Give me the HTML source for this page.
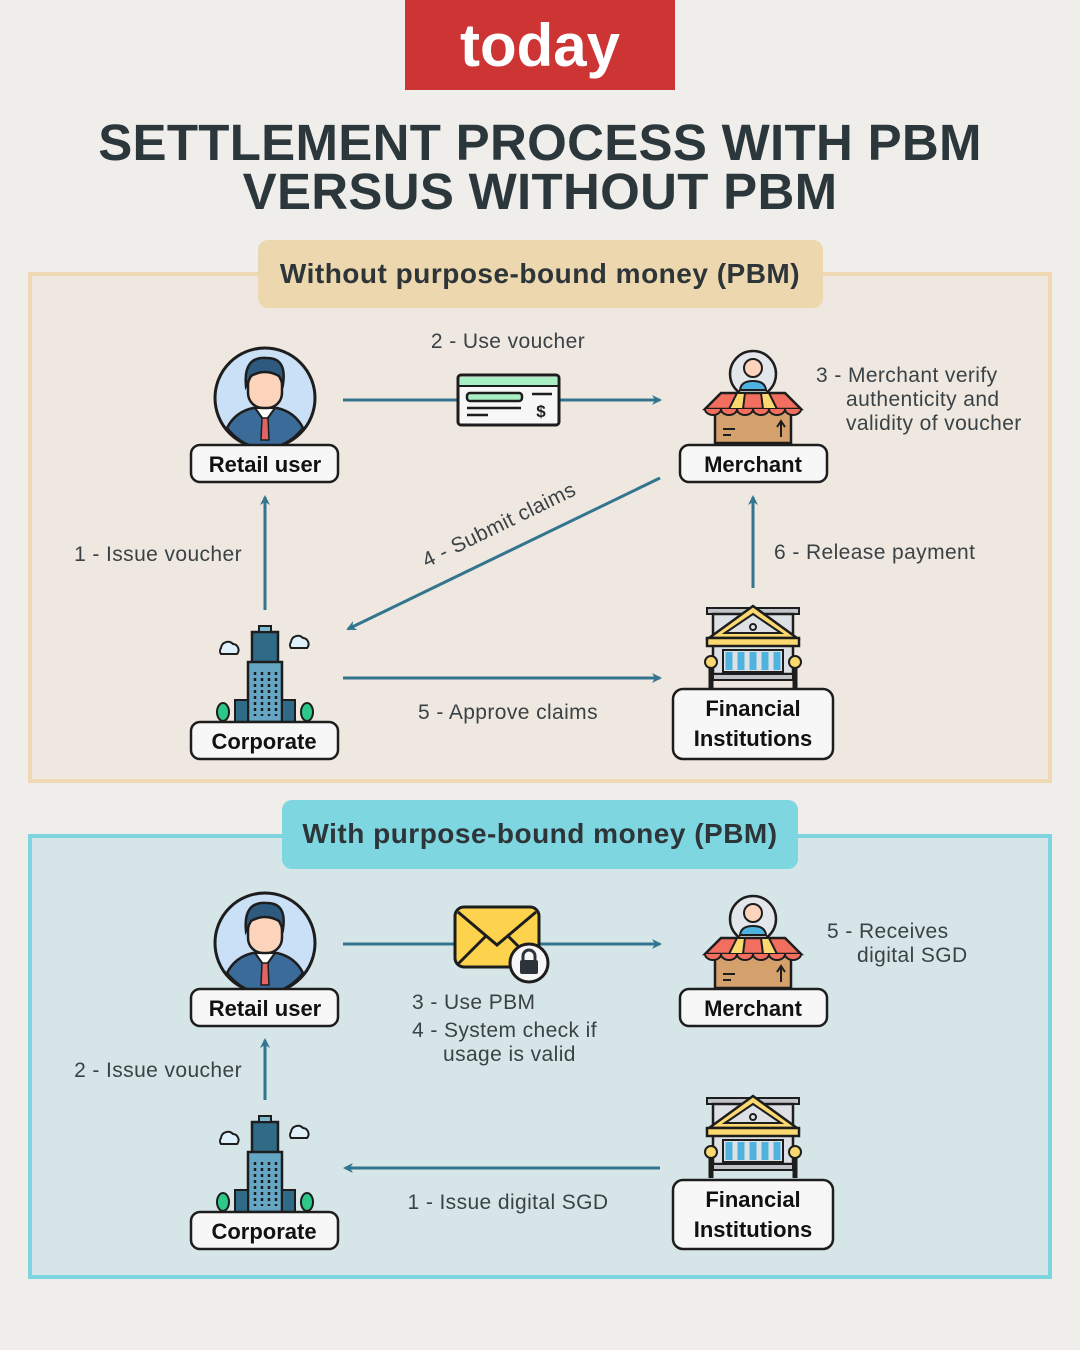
<!DOCTYPE html>
<html><head><meta charset="utf-8"><style>
html,body{margin:0;padding:0;background:#efeeeb;}
svg{display:block;}
text{font-family:"Liberation Sans",sans-serif;}
</style></head><body>
<svg width="1080" height="1350" viewBox="0 0 1080 1350" xmlns="http://www.w3.org/2000/svg">
<defs>
<marker id="ah" markerWidth="10" markerHeight="10" refX="8" refY="5" orient="auto" markerUnits="userSpaceOnUse">
<path d="M0,0 L10,5 L0,10 L3,5 Z" fill="#33758f"/></marker>
<g id="user">
<circle cx="0" cy="0" r="50" fill="#c9e0f7" stroke="#1d1d1d" stroke-width="3"/>
<path d="M-38,30 Q-30,14 -12,10 L12,10 Q30,14 38,30 Q22,50 0,50 Q-22,50 -38,30Z" fill="#3b6b99" stroke="#1d1d1d" stroke-width="2.5"/>
<path d="M-10,10 L0,24 L10,10 Z" fill="#fff" stroke="#1d1d1d" stroke-width="2"/>
<path d="M-3,20 L3,20 L4,42 L-4,42Z" fill="#e06464" stroke="#1d1d1d" stroke-width="1.5"/>
<rect x="-17" y="-28" width="34" height="38" rx="15" fill="#fcd3bb" stroke="#1d1d1d" stroke-width="2.5"/>
<path d="M-19,-12 Q-22,-42 2,-40 Q22,-40 18,-14 L14,-22 Q0,-30 -14,-22Z" fill="#2f5a80" stroke="#1d1d1d" stroke-width="2.5"/>
</g>
<g id="merchant">
<circle cx="0" cy="-25" r="23" fill="#e3e6ea" stroke="#1d1d1d" stroke-width="2.5"/>
<circle cx="0" cy="-31" r="9" fill="#fcd3bb" stroke="#1d1d1d" stroke-width="2"/>
<path d="M-13,-9 Q-12,-18 0,-18 Q12,-18 13,-9Z" fill="#4fb3e0" stroke="#1d1d1d" stroke-width="2"/>
<rect x="-38" y="2" width="76" height="42" fill="#d4a06c" stroke="#1d1d1d" stroke-width="2.5"/>
<path d="M-32,-6 L32,-6 L48,10 L-48,10Z" fill="#f26e5f" stroke="#1d1d1d" stroke-width="2.5"/>
<path d="M-16,-6 L-8,-6 L-10,10 L-24,10Z M8,-6 L16,-6 L24,10 L10,10Z" fill="#fbd970" stroke="#1d1d1d" stroke-width="2"/>
<path d="M-48,10 a8,6 0 0 0 16,0 a8,6 0 0 0 16,0 a8,6 0 0 0 16,0 a8,6 0 0 0 16,0 a8,6 0 0 0 16,0 a8,6 0 0 0 16,0" fill="#f26e5f" stroke="#1d1d1d" stroke-width="2"/>
<path d="M28,38 L28,24 M24,28 L28,22 L32,28" stroke="#1d1d1d" stroke-width="2" fill="none"/>
<path d="M-30,30 H-18 M-30,36 H-22" stroke="#1d1d1d" stroke-width="2"/>
</g>
<g id="corp">
<rect x="-13" y="-88" width="26" height="32" fill="#2f6b87" stroke="#1d1d1d" stroke-width="2.5"/>
<rect x="-6" y="-94" width="12" height="6" fill="#7db9cf" stroke="#1d1d1d" stroke-width="2"/>
<rect x="-17" y="-58" width="34" height="60" fill="#64a6c4" stroke="#1d1d1d" stroke-width="2.5"/>
<rect x="-30" y="-20" width="13" height="22" fill="#2f6b87" stroke="#1d1d1d" stroke-width="2"/>
<rect x="17" y="-20" width="13" height="22" fill="#2f6b87" stroke="#1d1d1d" stroke-width="2"/>
<path d="M-10,-48 V-4 M-3,-48 V-4 M4,-48 V-4 M11,-48 V-4" stroke="#1d1d1d" stroke-width="2.5" stroke-dasharray="3,3"/>
<path d="M-44,-72 a7,7 0 0 1 12,-4 a6,6 0 0 1 4,10 h-16 a5,5 0 0 1 0,-6Z" fill="#dff0fa" stroke="#1d1d1d" stroke-width="2"/>
<path d="M26,-78 a7,7 0 0 1 12,-4 a6,6 0 0 1 4,10 h-16 a5,5 0 0 1 0,-6Z" fill="#dff0fa" stroke="#1d1d1d" stroke-width="2"/>
<ellipse cx="-42" cy="-8" rx="6" ry="9" fill="#2ec78a" stroke="#1d1d1d" stroke-width="2"/>
<ellipse cx="42" cy="-8" rx="6" ry="9" fill="#2ec78a" stroke="#1d1d1d" stroke-width="2"/>
</g>
<g id="bank">
<rect x="-46" y="-80" width="92" height="6" fill="#c0c4c9" stroke="#1d1d1d" stroke-width="2"/>
<rect x="-40" y="-74" width="80" height="60" fill="#dde0e4" stroke="#1d1d1d" stroke-width="2.5"/>
<path d="M-44,-50 L0,-82 L44,-50Z" fill="#fbd970" stroke="#1d1d1d" stroke-width="2.5"/>
<path d="M-28,-55 L0,-74 L28,-55Z" fill="#dde0e4" stroke="#1d1d1d" stroke-width="2"/>
<circle cx="0" cy="-61" r="3" fill="none" stroke="#1d1d1d" stroke-width="2"/>
<rect x="-46" y="-50" width="92" height="8" fill="#fbd970" stroke="#1d1d1d" stroke-width="2.5"/>
<rect x="-30" y="-38" width="60" height="22" fill="#dde0e4" stroke="#1d1d1d" stroke-width="2"/>
<path d="M-24,-36 V-18 M-12,-36 V-18 M0,-36 V-18 M12,-36 V-18 M24,-36 V-18" stroke="#4fb3e0" stroke-width="7"/>
<circle cx="-42" cy="-26" r="6" fill="#fbd970" stroke="#1d1d1d" stroke-width="2"/>
<circle cx="42" cy="-26" r="6" fill="#fbd970" stroke="#1d1d1d" stroke-width="2"/>
<path d="M-42,-20 V0 M42,-20 V0" stroke="#1d1d1d" stroke-width="5"/>
<rect x="-40" y="-14" width="80" height="6" fill="#c0c4c9" stroke="#1d1d1d" stroke-width="2"/>
</g>
</defs>

<rect width="1080" height="1350" fill="#efeeeb"/>
<rect x="405" y="0" width="270" height="90" fill="#cd3535"/>
<text x="540" y="66" text-anchor="middle" font-size="60" font-weight="bold" fill="#fff" letter-spacing="0">today</text>
<text x="540" y="160" text-anchor="middle" font-size="51" font-weight="bold" fill="#2c373b" letter-spacing="0.3">SETTLEMENT PROCESS WITH PBM</text>
<text x="540" y="209" text-anchor="middle" font-size="51" font-weight="bold" fill="#2c373b" letter-spacing="0.3">VERSUS WITHOUT PBM</text>

<rect x="30" y="274" width="1020" height="507" fill="#efe8e0" stroke="#efd8b3" stroke-width="4"/>
<rect x="258" y="240" width="565" height="68" rx="10" fill="#ecd7ae"/>
<text x="540" y="283" text-anchor="middle" font-size="28" font-weight="bold" fill="#2d3538" letter-spacing="0.5">Without purpose-bound money (PBM)</text>

<rect x="30" y="836" width="1020" height="441" fill="#d6e6e8" stroke="#7ed5e0" stroke-width="4"/>
<rect x="282" y="800" width="516" height="69" rx="10" fill="#7ed6e0"/>
<text x="540" y="843" text-anchor="middle" font-size="28" font-weight="bold" fill="#2d3538" letter-spacing="0.5">With purpose-bound money (PBM)</text>

<g stroke="#33758f" stroke-width="3" fill="none" marker-end="url(#ah)">
<line x1="343" y1="400" x2="660" y2="400"/>
<line x1="265" y1="610" x2="265" y2="497"/>
<line x1="753" y1="588" x2="753" y2="497"/>
<line x1="660" y1="478" x2="348" y2="629"/>
<line x1="343" y1="678" x2="660" y2="678"/>
<line x1="343" y1="944" x2="660" y2="944"/>
<line x1="265" y1="1100" x2="265" y2="1040"/>
<line x1="660" y1="1168" x2="345" y2="1168"/>
</g>

<rect x="458" y="375" width="101" height="50" rx="3" fill="#f7f7f7" stroke="#1d1d1d" stroke-width="3"/>
<rect x="460" y="377" width="97" height="8" fill="#a8efc4"/>
<line x1="458" y1="386" x2="559" y2="386" stroke="#1d1d1d" stroke-width="2"/>
<rect x="467" y="393" width="55" height="8" rx="3" fill="#a8efc4" stroke="#1d1d1d" stroke-width="2.5"/>
<path d="M467,408 H521 M467,415 H488 M532,394 H552" stroke="#1d1d1d" stroke-width="2.5"/>
<text x="541" y="417" text-anchor="middle" font-size="17" font-weight="bold" fill="#1d1d1d">$</text>

<rect x="455" y="907" width="84" height="60" rx="9" fill="#fdd34d" stroke="#1d1d1d" stroke-width="3"/>
<path d="M458,912 L497,945 L536,912 M458,964 L486,936 M536,964 L508,936" stroke="#1d1d1d" stroke-width="3" fill="none"/>
<circle cx="529" cy="963" r="19" fill="#f7f7f7" stroke="#1d1d1d" stroke-width="3"/>
<rect x="520" y="960" width="18" height="14" rx="2" fill="#2c333a"/>
<path d="M523,960 v-4 a6,6 0 0 1 12,0 v4" stroke="#2c333a" stroke-width="3" fill="none"/>

<use href="#user" x="265" y="398"/>
<use href="#merchant" x="753" y="399"/>
<use href="#corp" x="265" y="720"/>
<use href="#bank" x="753" y="688"/>
<use href="#user" x="265" y="943"/>
<use href="#merchant" x="753" y="944"/>
<use href="#corp" x="265" y="1210"/>
<use href="#bank" x="753" y="1178"/>

<g fill="#f7f7f7" stroke="#1d1d1d" stroke-width="2.5">
<rect x="191" y="445" width="147" height="37" rx="9"/>
<rect x="680" y="445" width="147" height="37" rx="9"/>
<rect x="191" y="722" width="147" height="37" rx="9"/>
<rect x="673" y="689" width="160" height="70" rx="10"/>
<rect x="191" y="989" width="147" height="37" rx="9"/>
<rect x="680" y="989" width="147" height="37" rx="9"/>
<rect x="191" y="1212" width="147" height="37" rx="9"/>
<rect x="673" y="1180" width="160" height="69" rx="10"/>
</g>
<g font-size="22" font-weight="bold" fill="#111" text-anchor="middle">
<text x="265" y="472">Retail user</text>
<text x="753" y="472">Merchant</text>
<text x="264" y="749">Corporate</text>
<text x="753" y="716">Financial</text>
<text x="753" y="746">Institutions</text>
<text x="265" y="1016">Retail user</text>
<text x="753" y="1016">Merchant</text>
<text x="264" y="1239">Corporate</text>
<text x="753" y="1207">Financial</text>
<text x="753" y="1237">Institutions</text>
</g>

<g font-size="21" fill="#3a4245" letter-spacing="0.4">
<text x="508" y="348" text-anchor="middle">2 - Use voucher</text>
<text x="816" y="382">3 - Merchant verify</text>
<text x="846" y="406">authenticity and</text>
<text x="846" y="430">validity of voucher</text>
<text x="242" y="561" text-anchor="end">1 - Issue voucher</text>
<text x="774" y="559">6 - Release payment</text>
<text x="508" y="719" text-anchor="middle">5 - Approve claims</text>
<text x="502" y="531" text-anchor="middle" transform="rotate(-26 502 531)">4 - Submit claims</text>
<text x="827" y="938">5 - Receives</text>
<text x="857" y="962">digital SGD</text>
<text x="412" y="1009">3 - Use PBM</text>
<text x="412" y="1037">4 - System check if</text>
<text x="443" y="1061">usage is valid</text>
<text x="242" y="1077" text-anchor="end">2 - Issue voucher</text>
<text x="508" y="1209" text-anchor="middle">1 - Issue digital SGD</text>
</g>
</svg>
</body></html>
